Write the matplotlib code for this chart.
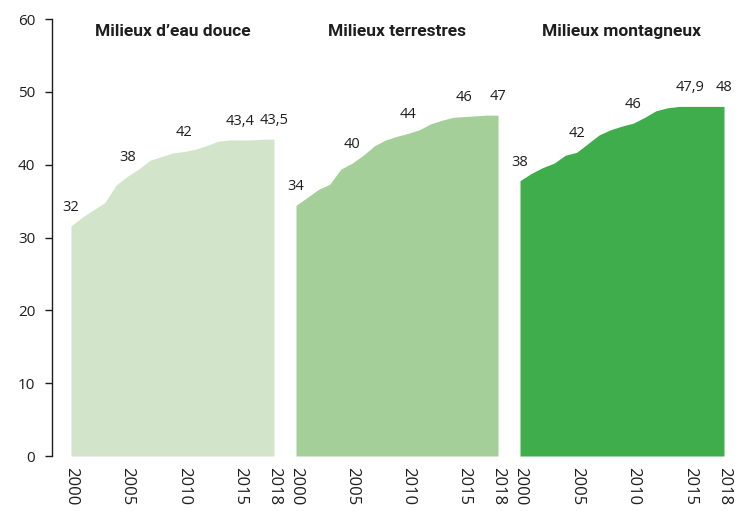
import matplotlib
matplotlib.use("Agg")
import matplotlib.pyplot as plt

# ============================================================
# DATA
# ============================================================

years = list(range(2000, 2019))

titles = ["Milieux d\u2019eau douce", "Milieux terrestres", "Milieux montagneux"]

eau_douce = [31.6, 32.8, 33.8, 34.8, 37.2, 38.4, 39.4, 40.6, 41.1, 41.6,
             41.8, 42.1, 42.6, 43.2, 43.4, 43.4, 43.4, 43.5, 43.5]
terrestres = [34.4, 35.5, 36.6, 37.3, 39.4, 40.2, 41.3, 42.6, 43.4, 43.9,
              44.3, 44.8, 45.6, 46.1, 46.5, 46.6, 46.7, 46.8, 46.8]
montagneux = [37.8, 38.8, 39.6, 40.2, 41.3, 41.7, 42.9, 44.1, 44.8, 45.3,
              45.7, 46.5, 47.4, 47.8, 48.0, 48.0, 48.0, 48.0, 48.0]

label_years = [2000, 2005, 2010, 2015, 2018]
labels_eau = ["32", "38", "42", "43,4", "43,5"]
labels_terre = ["34", "40", "44", "46", "47"]
labels_mont = ["38", "42", "46", "47,9", "48"]

series = [eau_douce, terrestres, montagneux]
point_labels = [labels_eau, labels_terre, labels_mont]
colors = ["#d2e5cb", "#a5cf98", "#40ad4d"]

xticks = [2000, 2005, 2010, 2015, 2018]
yticks = [0, 10, 20, 30, 40, 50, 60]

# ============================================================
# PLOT
# ============================================================

plt.rcParams["font.family"] = ["Open Sans", "DejaVu Sans"]
TXT = "#1e1e1e"

W, H = 745, 511
fig = plt.figure(figsize=(W / 100, H / 100), dpi=100)

# panel pixel extents (left, right)
panels = [(71, 274), (296, 498), (520, 724)]
top_px, bottom_px = 19, 456

for i, (x0, x1) in enumerate(panels):
    ax = fig.add_axes([x0 / W, (H - bottom_px) / H, (x1 - x0) / W,
                       (bottom_px - top_px) / H])
    vals = series[i]
    ax.fill_between(years, vals, 0, color=colors[i], linewidth=0)
    ax.set_xlim(2000, 2018)
    ax.set_ylim(0, 60)

    for s in ["top", "right", "bottom"]:
        ax.spines[s].set_visible(False)

    ax.set_xticks(xticks)
    ax.set_xticklabels([str(t) for t in xticks], rotation=-90,
                       fontsize=12, color=TXT)
    ax.tick_params(axis="x", length=0, pad=8)

    if i == 0:
        # spine sits 19 px left of the first panel
        ax.spines["left"].set_position(("outward", 19 * 0.72))
        ax.spines["left"].set_color(TXT)
        ax.spines["left"].set_linewidth(1.0)
        ax.set_yticks(yticks)
        ax.tick_params(axis="y", length=5, width=1.0, color=TXT,
                       labelsize=11, labelcolor=TXT, pad=7)
    else:
        ax.spines["left"].set_visible(False)
        ax.set_yticks([])

    # value labels
    for yr, txt in zip(label_years, point_labels[i]):
        v = vals[years.index(yr)]
        ax.annotate(txt, (yr, v), xytext=(0, 8), textcoords="offset points",
                    ha="center", va="bottom", fontsize=10.5, color=TXT,
                    annotation_clip=False)

    fig.text((x0 + x1) / 2 / W, 1 - 31 / H, titles[i],
             ha="center", va="center", fontsize=12.5, fontweight="bold",
             color=TXT, family=["Roboto", "DejaVu Sans"])

fig.savefig("out.png", dpi=100)
